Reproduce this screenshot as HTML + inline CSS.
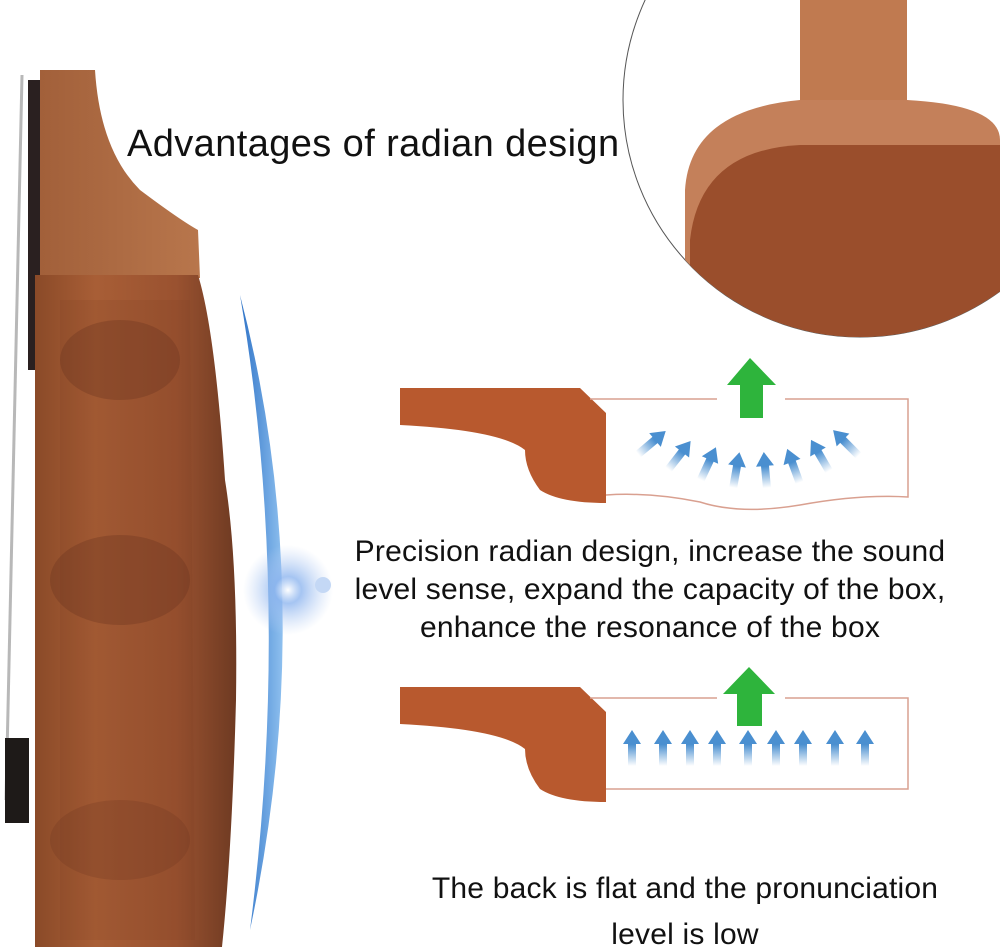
<!DOCTYPE html>
<html><head><meta charset="utf-8"><style>
html,body{margin:0;padding:0;background:#fff;}
#w{position:relative;width:1000px;height:947px;overflow:hidden;font-family:"Liberation Sans","DejaVu Sans",sans-serif;}
.t{position:absolute;color:#111;white-space:nowrap;}
</style></head><body><div id="w">
<svg width="1000" height="947" style="position:absolute;left:0;top:0">
<defs>
<linearGradient id="wood" x1="0" x2="1" y1="0" y2="0">
<stop offset="0" stop-color="#8a4a28"/><stop offset="0.3" stop-color="#a85e36"/><stop offset="0.7" stop-color="#9a5230"/><stop offset="1" stop-color="#6e3a22"/>
</linearGradient>
<linearGradient id="neck" x1="0" x2="1"><stop offset="0" stop-color="#a2603a"/><stop offset="1" stop-color="#b8764c"/></linearGradient>
<linearGradient id="blue" x1="0" x2="1"><stop offset="0" stop-color="#2f73c7"/><stop offset="1" stop-color="#8ec0ef"/></linearGradient>
<linearGradient id="ar" x1="0" x2="0" y1="0" y2="1"><stop offset="0.4" stop-color="#4a8fd0"/><stop offset="1" stop-color="#4a8fd0" stop-opacity="0"/></linearGradient>
<radialGradient id="glow"><stop offset="0" stop-color="#fff"/><stop offset="0.3" stop-color="#8fb6ef" stop-opacity="0.8"/><stop offset="1" stop-color="#b9cff3" stop-opacity="0"/></radialGradient>
<clipPath id="cc"><circle cx="860" cy="100" r="237"/></clipPath>
<g id="up"><path d="M0 -14 L9 0 L4 0 L4 22 L-4 22 L-4 0 L-9 0 Z" fill="url(#ar)"/></g>
</defs>
<line x1="22" y1="75" x2="6" y2="800" stroke="#b8b8b8" stroke-width="3"/>
<rect x="28" y="80" width="14" height="290" fill="#2a2020"/>
<path d="M40 70 L95 70 Q100 150 140 190 Q180 220 198 230 L200 278 L40 278 Z" fill="url(#neck)"/>
<path d="M35 275 L198 275 Q215 330 225 480 Q238 560 236 700 Q232 850 222 947 L35 947 Z" fill="url(#wood)"/>
<path d="M60 300 L190 300 L195 940 L60 940Z" fill="#7a3e22" opacity="0.15"/>
<ellipse cx="120" cy="360" rx="60" ry="40" fill="#6a3420" opacity="0.35"/>
<ellipse cx="120" cy="580" rx="70" ry="45" fill="#6a3420" opacity="0.35"/>
<ellipse cx="120" cy="840" rx="70" ry="40" fill="#6a3420" opacity="0.25"/>
<rect x="5" y="738" width="24" height="85" fill="#1e1a18"/>
<path d="M240 295 Q320 600 250 930 Q292 600 240 295Z" fill="url(#blue)"/>
<circle cx="288" cy="590" r="45" fill="url(#glow)"/>
<circle cx="323" cy="585" r="8" fill="#c4d8f5"/>
<circle cx="860" cy="100" r="237" fill="#fff" stroke="#555" stroke-width="1"/>
<g clip-path="url(#cc)">
<rect x="800" y="0" width="107" height="120" fill="#c07a50"/>
<path d="M685 190 Q690 110 800 100 L907 100 Q1000 105 1000 140 L1000 340 L685 340Z" fill="#c4805a"/>
<path d="M690 240 Q700 150 800 145 L1000 145 L1000 340 L690 340Z" fill="#9a4e2c"/>
</g>
<path d="M400 388 L580 388 L606 413 L606 503 Q560 503 540 490 Q525 470 525 450 Q500 430 400 425Z" fill="#b8592e"/>
<path d="M590 399 L717 399 M785 399 L908 399 L908 497 Q860 494 800 505 Q740 515 700 502 Q650 492 606 495" stroke="#d9a090" stroke-width="1.5" fill="none"/>
<path d="M750 358 L776 385 L763 385 L763 418 L740 418 L740 385 L727 385Z" fill="#2eb43c"/>
<g transform="translate(655,440) rotate(50)"><use href="#up"/></g>
<g transform="translate(682,452) rotate(38)"><use href="#up"/></g>
<g transform="translate(710,460) rotate(25)"><use href="#up"/></g>
<g transform="translate(737,466) rotate(10)"><use href="#up"/></g>
<g transform="translate(765,466) rotate(-5)"><use href="#up"/></g>
<g transform="translate(792,462) rotate(-20)"><use href="#up"/></g>
<g transform="translate(818,452) rotate(-30)"><use href="#up"/></g>
<g transform="translate(843,440) rotate(-45)"><use href="#up"/></g>
<path d="M400 687 L580 687 L606 712 L606 802 Q560 802 540 789 Q525 769 525 749 Q500 729 400 724Z" fill="#b8592e"/>
<path d="M590 698 L717 698 M785 698 L908 698 L908 789 L606 789" stroke="#d9a090" stroke-width="1.5" fill="none"/>
<path d="M749 667 L775 694 L762 694 L762 726 L737 726 L737 694 L723 694Z" fill="#2eb43c"/>
<g transform="translate(632,744)"><use href="#up"/></g>
<g transform="translate(663,744)"><use href="#up"/></g>
<g transform="translate(690,744)"><use href="#up"/></g>
<g transform="translate(717,744)"><use href="#up"/></g>
<g transform="translate(748,744)"><use href="#up"/></g>
<g transform="translate(776,744)"><use href="#up"/></g>
<g transform="translate(803,744)"><use href="#up"/></g>
<g transform="translate(835,744)"><use href="#up"/></g>
<g transform="translate(865,744)"><use href="#up"/></g>
</svg>
<div class="t" style="left:127px;top:123px;font-size:38px;letter-spacing:0.4px;">Advantages of radian design</div>
<div class="t" style="left:330px;top:533px;width:640px;text-align:center;font-size:30px;line-height:38px;letter-spacing:0.2px;">Precision radian design, increase the sound<br>level sense, expand the capacity of the box,<br>enhance the resonance of the box</div>
<div class="t" style="left:370px;top:866px;width:630px;text-align:center;font-size:30px;line-height:46px;letter-spacing:0.2px;">The back is flat and the pronunciation<br>level is low</div>
</div></body></html>
